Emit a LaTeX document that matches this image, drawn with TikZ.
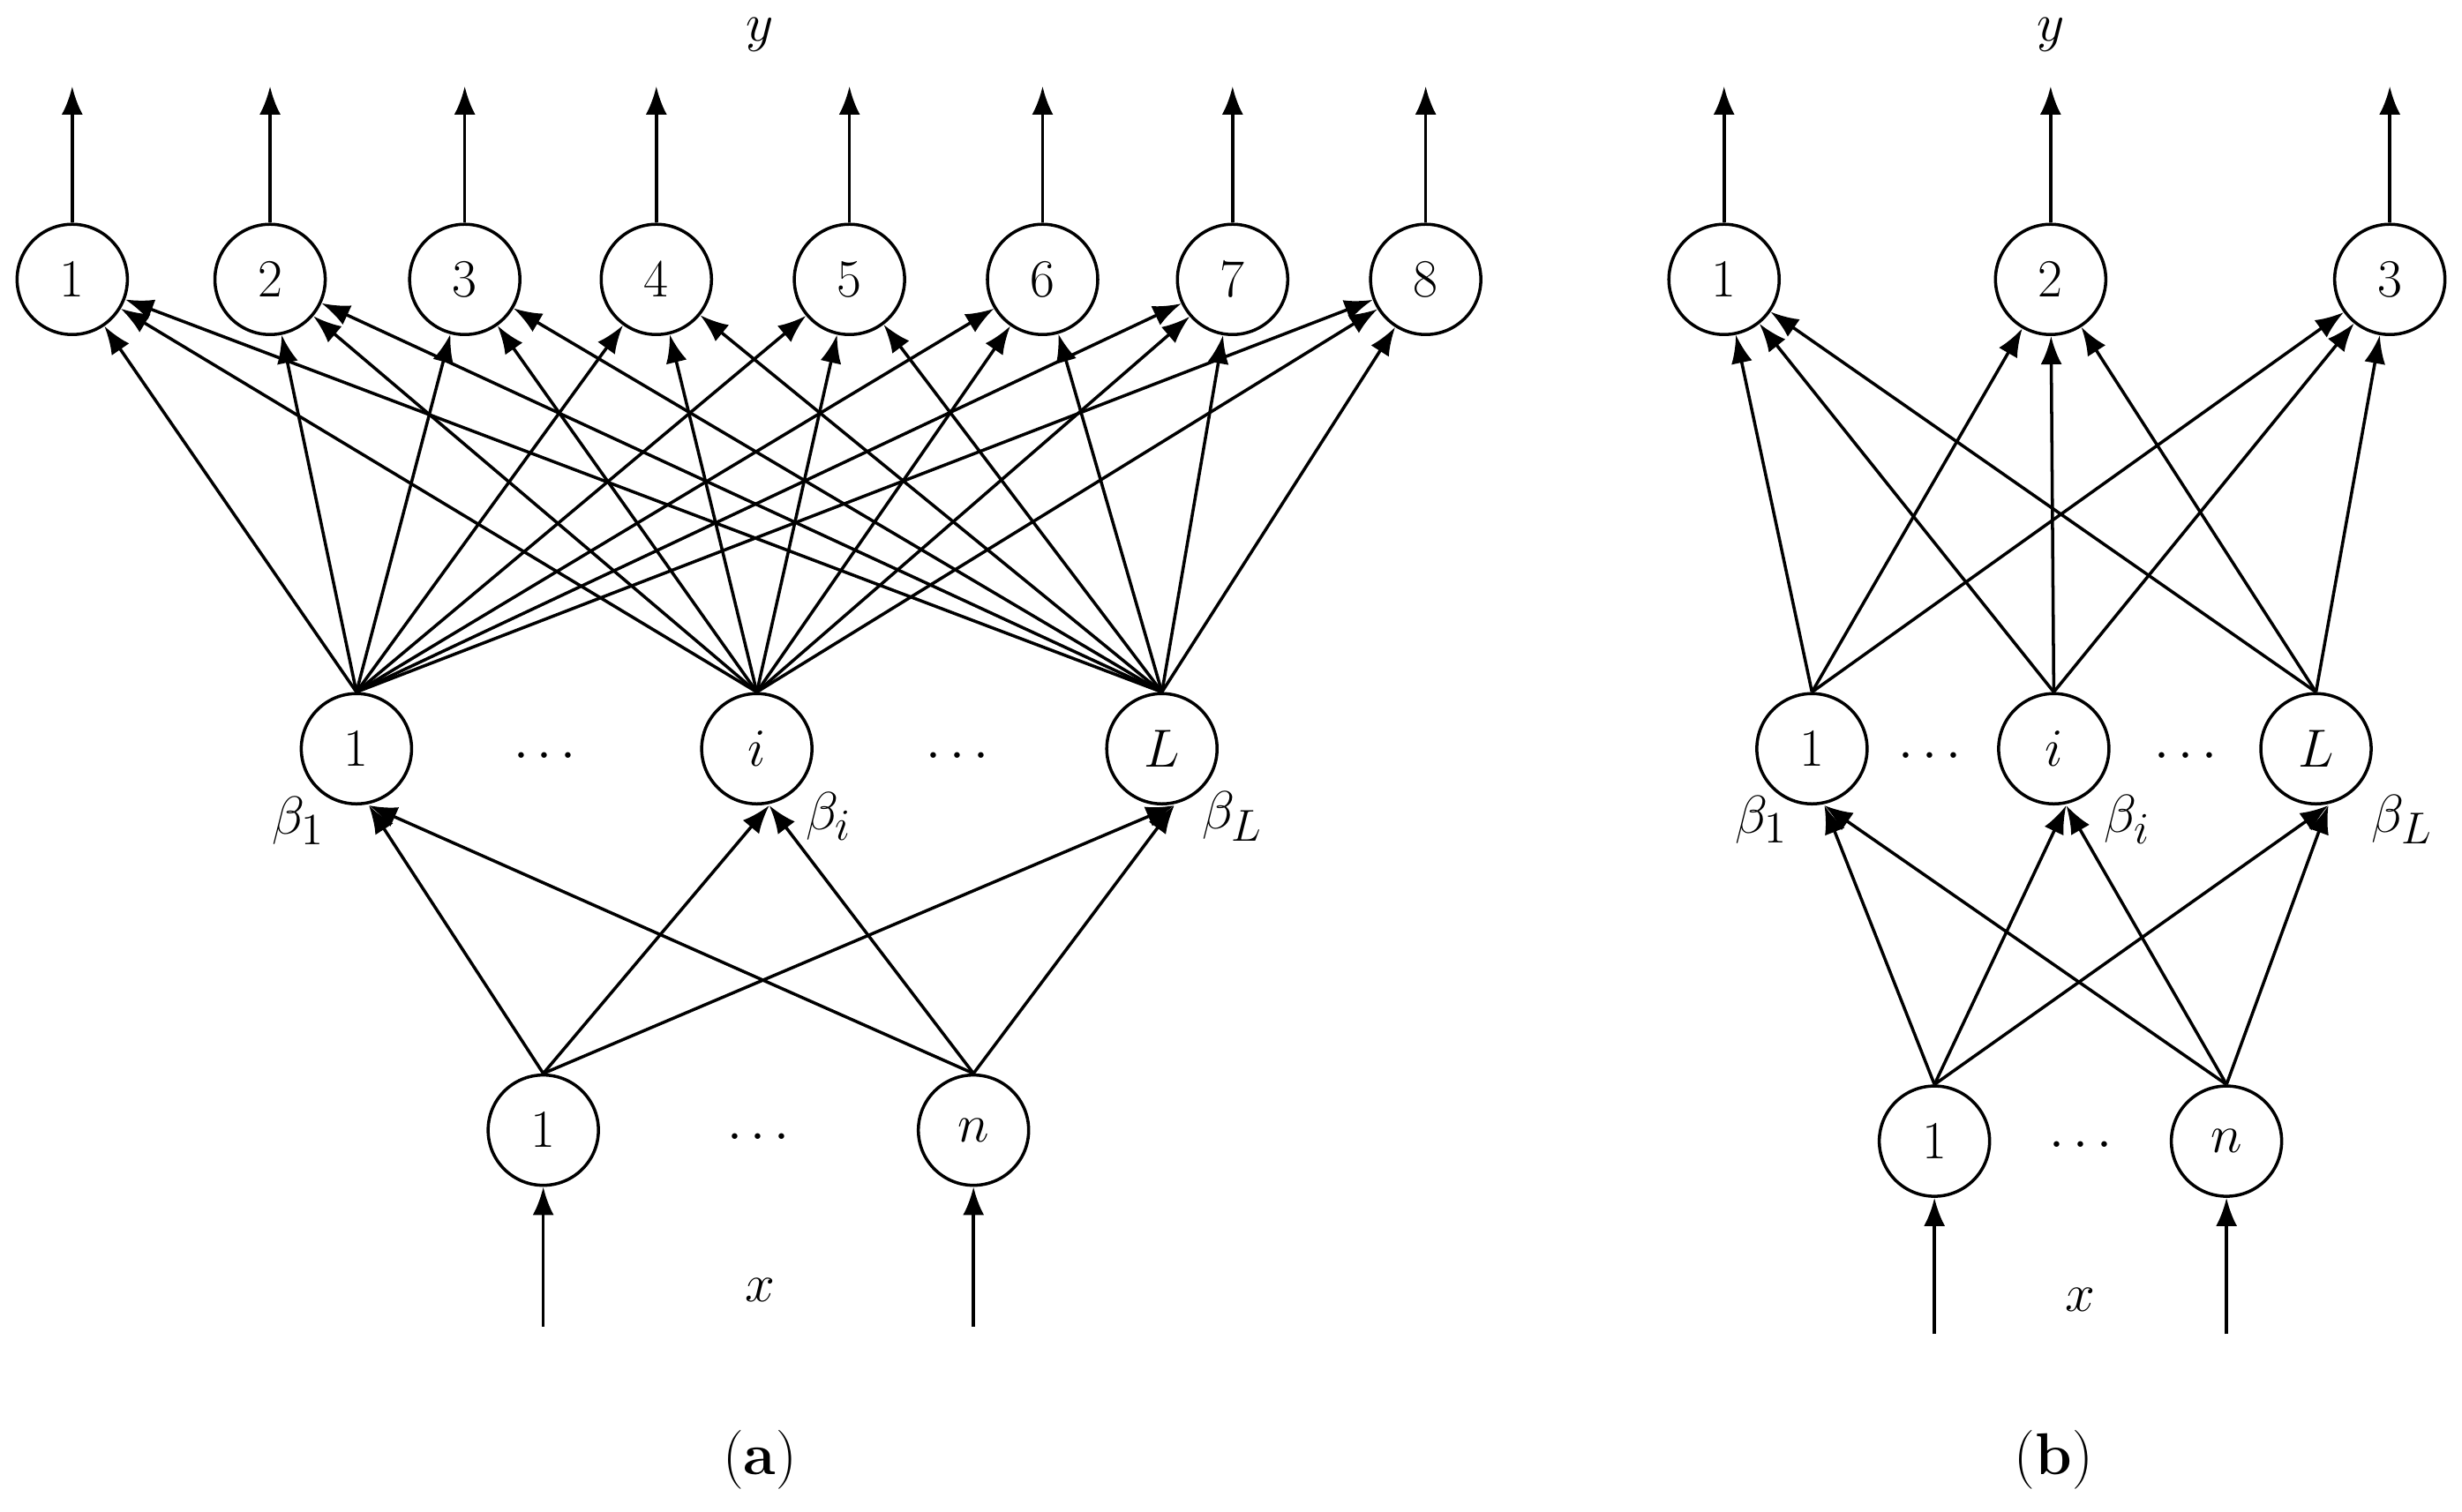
\documentclass[tikz,border=0pt]{standalone}
\usetikzlibrary{arrows.meta}
\tikzset{
  neuron/.style={circle,draw,line width=1pt,minimum size=1.25cm,inner sep=0pt,font=\fontsize{18}{21}\selectfont},
  lab/.style={font=\fontsize{19}{22}\selectfont},
  conn/.style={line width=1pt,-{Latex[length=3.2mm,width=2.4mm]}}
}
\begin{document}
\begin{tikzpicture}[x=0.01779cm,y=-0.01779cm]
\useasboundingbox (0,0) rectangle (1568,963);

% (a)
\foreach \k/\xx in {1/46,2/172,3/296,4/418,5/541,6/664,7/785,8/908}{
  \node[neuron] (ao\k) at (\xx,178) {$\k$};
  \coordinate (aot\k) at (\xx,55);
  \draw[conn] (ao\k) -- (aot\k);
}
\foreach \k/\xx/\t in {1/227/1,2/482/i,3/740/L}
  \node[neuron] (ah\k) at (\xx,477) {$\t$};
\foreach \k/\xx/\t in {1/346/1,2/620/n}{
  \node[neuron] (ai\k) at (\xx,720) {$\t$};
  \coordinate (aib\k) at (\xx,845);
  \draw[conn] (aib\k) -- (ai\k);
}
\foreach \h in {1,2,3}{
  \foreach \k in {1,...,8}
    \draw[conn] (ah\h.north) -- (ao\k);
  \foreach \i in {1,2}
    \draw[conn] (ai\i.north) -- ([xshift=4pt]ah\h.south);
}
\node[lab] (ady1) at (347,482) {$\cdots$};
\node[lab] (ady2) at (610,482) {$\cdots$};
\node[lab] (adx) at (483,725) {$\cdots$};
\node[lab] (ay) at (484,22) {$y$};
\node[lab] (ax) at (484,822) {$x$};
\node[lab] (ab1) at (190,523) {$\beta_1$};
\node[lab] (abi) at (528,520) {$\beta_i$};
\node[lab] (abL) at (785,520) {$\beta_L$};
\node[lab] (acap) at (484,930) {(\textbf{a})};

% (b)
\foreach \k/\xx in {1/1098,2/1306,3/1522}{
  \node[neuron] (bo\k) at (\xx,178) {$\k$};
  \coordinate (bot\k) at (\xx,55);
  \draw[conn] (bo\k) -- (bot\k);
}
\foreach \k/\xx/\t in {1/1154/1,2/1308/i,3/1475/L}
  \node[neuron] (bh\k) at (\xx,477) {$\t$};
\foreach \k/\xx/\t in {1/1232/1,2/1418/n}{
  \node[neuron] (bi\k) at (\xx,727) {$\t$};
  \coordinate (bib\k) at (\xx,850);
  \draw[conn] (bib\k) -- (bi\k);
}
\foreach \h in {1,2,3}{
  \foreach \k in {1,2,3}
    \draw[conn] (bh\h.north) -- (bo\k);
  \foreach \i in {1,2}
    \draw[conn] (bi\i.north) -- ([xshift=4pt]bh\h.south);
}
\node[lab] (bdy1) at (1229,482) {$\cdots$};
\node[lab] (bdy2) at (1392,482) {$\cdots$};
\node[lab] (bdx) at (1325,730) {$\cdots$};
\node[lab] (by) at (1306,22) {$y$};
\node[lab] (bx) at (1325,828) {$x$};
\node[lab] (bb1) at (1122,522) {$\beta_1$};
\node[lab] (bbi) at (1355,522) {$\beta_i$};
\node[lab] (bbL) at (1530,522) {$\beta_L$};
\node[lab] (bcap) at (1308,930) {(\textbf{b})};
\end{tikzpicture}
\end{document}
